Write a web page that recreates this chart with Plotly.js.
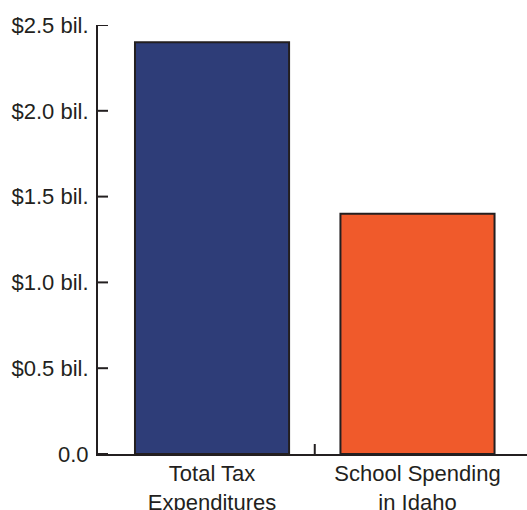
<!DOCTYPE html>
<html>
<head>
<meta charset="utf-8">
<script src="https://cdn.plot.ly/plotly-3.0.1.min.js"></script>
<style>html,body{margin:0;padding:0;background:#fff;}#chart{width:527px;height:510px;}</style>
</head>
<body>
<div id="chart"></div>
<script>
var categories = ["Total Tax<br>Expenditures", "School Spending<br>in Idaho"];
var values = [2.4, 1.4];
var barColors = ["#2e3d78", "#f05a2b"];
var yTickVals = [0, 0.5, 1.0, 1.5, 2.0, 2.5];
var yTickText = ["0.0", "$0.5 bil.", "$1.0 bil.", "$1.5 bil.", "$2.0 bil.", "$2.5 bil."];

var xIdx = categories.map(function (c, i) { return i; });
var boundaries = [];
for (var i = 0; i < categories.length - 1; i++) boundaries.push(i + 0.5);

var xRange = [-0.555, 1.533];
var ink = "#231f20";
var font = {family: "Liberation Sans, Arial, sans-serif", size: 22, color: ink};

var traces = [{
  type: "bar",
  x: xIdx,
  y: values,
  width: 0.75,
  marker: {color: barColors, line: {color: ink, width: 2}},
  hoverinfo: "none"
}];

// inward tick marks: category boundary on x, value ticks on y
var shapes = boundaries.map(function (b) {
  return {
    type: "line", xref: "x", yref: "y",
    x0: b, x1: b,
    ysizemode: "pixel", yanchor: 0, y0: 0, y1: 10,
    line: {color: ink, width: 2}
  };
}).concat(yTickVals.map(function (v) {
  return {
    type: "line", xref: "x", yref: "y",
    xsizemode: "pixel", xanchor: xRange[0], x0: 0, x1: 10,
    y0: v, y1: v,
    line: {color: ink, width: 2}
  };
}));

var layout = {
  width: 527,
  height: 510,
  margin: {l: 98, r: 0, t: 25, b: 56, pad: 0},
  paper_bgcolor: "#fff",
  plot_bgcolor: "#fff",
  showlegend: false,
  font: font,
  shapes: shapes,
  xaxis: {
    type: "linear",
    range: xRange,
    tickmode: "array",
    tickvals: xIdx,
    ticktext: categories,
    ticks: "",
    showgrid: false,
    zeroline: false,
    showline: true,
    linecolor: ink,
    linewidth: 2,
    tickfont: font,
    ticklabelstandoff: -1,
    fixedrange: true
  },
  yaxis: {
    range: [0, 2.5],
    tickmode: "array",
    tickvals: yTickVals,
    ticktext: yTickText,
    ticks: "",
    showgrid: false,
    zeroline: false,
    showline: true,
    linecolor: ink,
    linewidth: 2,
    tickfont: font,
    ticklabelstandoff: 3,
    fixedrange: true
  }
};

Plotly.newPlot("chart", traces, layout, {displayModeBar: false, staticPlot: true});
</script>
</body>
</html>
